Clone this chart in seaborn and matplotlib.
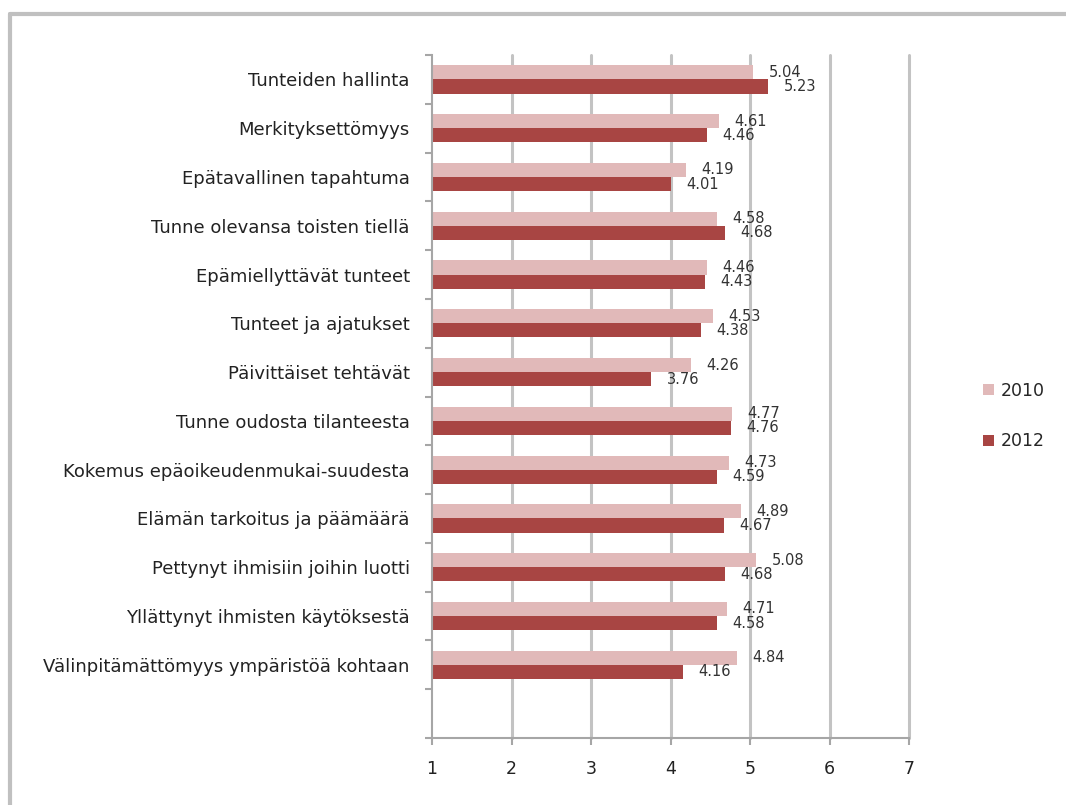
import matplotlib
matplotlib.use("Agg")
import matplotlib.pyplot as plt
import seaborn as sns
import pandas as pd
from matplotlib.lines import Line2D
from matplotlib.patches import Patch

categories = [
    "Tunteiden hallinta",
    "Merkityksettömyys",
    "Epätavallinen tapahtuma",
    "Tunne olevansa toisten tiellä",
    "Epämiellyttävät tunteet",
    "Tunteet ja ajatukset",
    "Päivittäiset tehtävät",
    "Tunne oudosta tilanteesta",
    "Kokemus epäoikeudenmukai-suudesta",
    "Elämän tarkoitus ja päämäärä",
    "Pettynyt ihmisiin joihin luotti",
    "Yllättynyt ihmisten käytöksestä",
    "Välinpitämättömyys ympäristöä kohtaan",
]
values_2010 = [5.04, 4.61, 4.19, 4.58, 4.46, 4.53, 4.26, 4.77, 4.73, 4.89, 5.08, 4.71, 4.84]
values_2012 = [5.23, 4.46, 4.01, 4.68, 4.43, 4.38, 3.76, 4.76, 4.59, 4.67, 4.68, 4.58, 4.16]
series_names = ["2010", "2012"]
x_ticks = [1, 2, 3, 4, 5, 6, 7]

df = pd.DataFrame({
    "category": categories * 2,
    "value": values_2010 + values_2012,
    "year": [series_names[0]] * len(categories) + [series_names[1]] * len(categories),
})

colors = {"2010": "#E1B9B9", "2012": "#A84543"}

sns.set_style("white")
plt.rcParams["font.family"] = ["DejaVu Sans"]

fig = plt.figure(figsize=(10.66, 8.05), dpi=100)
ax = fig.add_axes([432 / 1066, 1 - 738 / 805, (909 - 432) / 1066, (738 - 55) / 805])

sns.barplot(data=df, y="category", x="value", hue="year", orient="h",
            order=categories, hue_order=series_names, palette=colors,
            width=0.58, gap=0, ax=ax, legend=False, saturation=1, errorbar=None,
            linewidth=0, edgecolor="none")

ax.set_xlim(1, 7)
ax.set_ylim(len(categories) + 0.5, -0.5)
ax.set_xticks(x_ticks)
ax.set_xticklabels([str(t) for t in x_ticks], fontsize=12.5, color="#222222")
ax.set_xlabel("")
ax.set_ylabel("")

ax.tick_params(axis="y", which="major", length=0, pad=16, labelsize=13, labelcolor="#222222")
ax.set_yticks([i - 0.5 for i in range(len(categories) + 2)], minor=True)
ax.tick_params(axis="y", which="minor", length=5, width=1.5, color="#a6a6a6", left=True)
ax.tick_params(axis="x", which="major", length=5, width=1.5, color="#a6a6a6", pad=11, bottom=True)

ax.grid(False)
for t in x_ticks[1:]:
    ax.axvline(t, color="#c3c3c3", lw=2.2, zorder=0, clip_on=False)

for s in ["top", "right"]:
    ax.spines[s].set_visible(False)
for s in ["left", "bottom"]:
    ax.spines[s].set_color("#a6a6a6")
    ax.spines[s].set_linewidth(1.5)

for cont in ax.containers:
    ax.bar_label(cont, fmt="%.2f", padding=11, fontsize=10.5, color="#333333")

handles = [Patch(facecolor=colors[n], edgecolor="none", label=n) for n in series_names]
fig.legend(handles=handles, loc="center", bbox_to_anchor=(1014 / 1066, 1 - 416 / 805),
           frameon=False, fontsize=12.5, handlelength=0.6, handleheight=0.6,
           handletextpad=0.4, labelspacing=1.9)

fig.add_artist(Line2D([10 / 1066, 1.0], [1 - 14 / 805, 1 - 14 / 805], color="#c0c0c0", lw=3,
                      transform=fig.transFigure))
fig.add_artist(Line2D([10 / 1066, 10 / 1066], [0.0, 1 - 14 / 805], color="#c0c0c0", lw=3,
                      transform=fig.transFigure))

fig.savefig("out.png", dpi=100)
